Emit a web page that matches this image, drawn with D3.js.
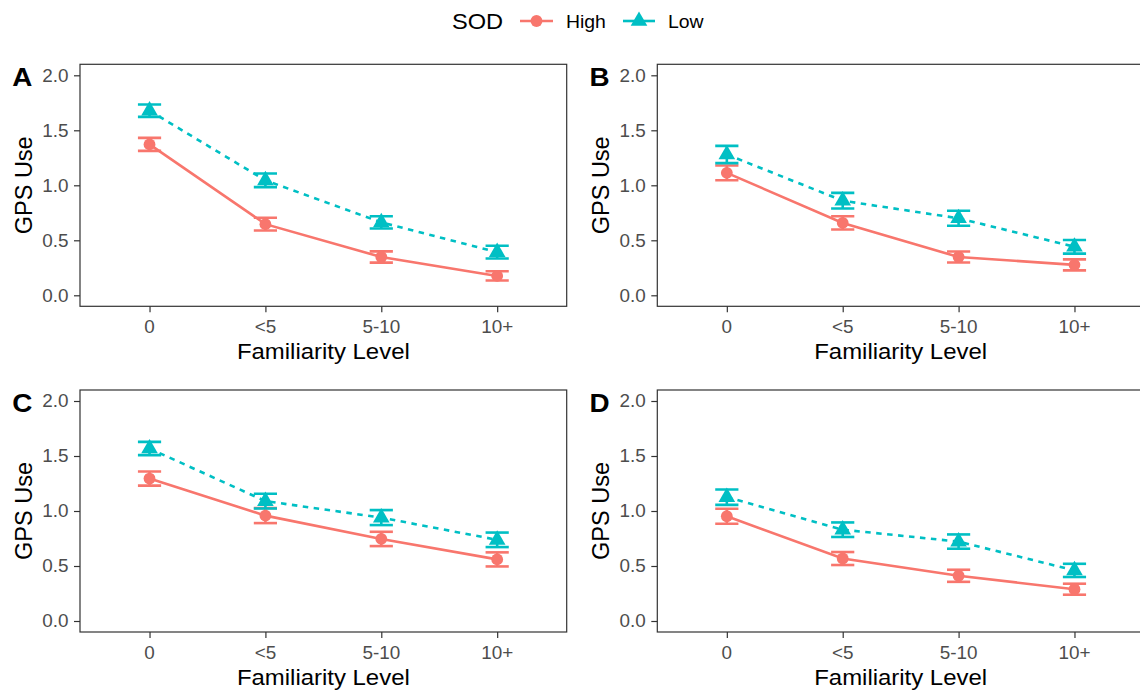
<!DOCTYPE html>
<html>
<head>
<meta charset="utf-8">
<script src="https://cdn.jsdelivr.net/npm/d3@7"></script>
<style>
  html, body { margin: 0; padding: 0; background: #fff; }
  svg { display: block; font-family: "Liberation Sans", Arial, Helvetica, sans-serif; }
</style>
</head>
<body>
<svg id="chart" width="1140" height="691"></svg>
<script>
// ---------------- data ----------------
const categories = ["0", "<5", "5-10", "10+"];
const panelTags = ["A", "B", "C", "D"];
const seriesNames = ["High", "Low"];
const yTicks = [0, 0.5, 1.0, 1.5, 2.0];

const highA = [1.372, 0.647, 0.348, 0.176];
const seHighA = [0.059, 0.058, 0.051, 0.042];
const lowA = [1.678, 1.045, 0.663, 0.392];
const seLowA = [0.056, 0.062, 0.056, 0.058];

const highB = [1.113, 0.658, 0.348, 0.277];
const seHighB = [0.067, 0.060, 0.050, 0.050];
const lowB = [1.280, 0.860, 0.700, 0.441];
const seLowB = [0.078, 0.071, 0.068, 0.062];

const highC = [1.295, 0.958, 0.746, 0.560];
const seHighC = [0.064, 0.068, 0.065, 0.064];
const lowC = [1.568, 1.090, 0.940, 0.738];
const seLowC = [0.060, 0.067, 0.068, 0.066];

const highD = [0.952, 0.568, 0.411, 0.289];
const seHighD = [0.068, 0.059, 0.055, 0.050];
const lowD = [1.126, 0.830, 0.722, 0.460];
const seLowD = [0.070, 0.066, 0.065, 0.060];

// ---------------- layout ----------------
const colors = { High: "#F8766D", Low: "#00BFC4" };
const SX = 1.05; // slight horizontal text stretch to match reference typography
const colX = [80, 657.3];
const rowY = [64.3, 390];
const panelW = 486.7;
const panelH = 242;

const panels = [
  { tag: "A", high: highA, seHigh: seHighA, low: lowA, seLow: seLowA, c: 0, r: 0 },
  { tag: "B", high: highB, seHigh: seHighB, low: lowB, seLow: seLowB, c: 1, r: 0 },
  { tag: "C", high: highC, seHigh: seHighC, low: lowC, seLow: seLowC, c: 0, r: 1 },
  { tag: "D", high: highD, seHigh: seHighD, low: lowD, seLow: seLowD, c: 1, r: 1 }
];

const svg = d3.select("#chart");

function stretchedText(g, x, y, txt, opts) {
  const t = g.append("text")
    .attr("transform", `translate(${x},${y}) scale(${SX},1)`)
    .attr("text-anchor", opts.anchor || "start")
    .attr("font-size", opts.size)
    .attr("fill", opts.fill || "#000")
    .text(txt);
  if (opts.weight) t.attr("font-weight", opts.weight);
  if (opts.dy) t.attr("dy", opts.dy);
  return t;
}

panels.forEach(p => {
  const left = colX[p.c], top = rowY[p.r];
  const right = left + panelW, bottom = top + panelH;

  const x = d3.scalePoint().domain(categories).range([left, right]).padding(0.6);
  const y = d3.scaleLinear().domain([-0.1, 2.1]).range([bottom, top]);

  const g = svg.append("g");

  g.append("rect").attr("x", left).attr("y", top).attr("width", panelW).attr("height", panelH)
    .attr("fill", "#fff").attr("stroke", "none");

  const yAxis = g.append("g").attr("transform", `translate(${left},0)`)
    .call(d3.axisLeft(y).tickValues(yTicks).tickSize(6).tickFormat(""));
  yAxis.select(".domain").remove();
  yAxis.selectAll(".tick line").attr("stroke", "#333").attr("stroke-width", 1.2);

  const xAxis = g.append("g").attr("transform", `translate(0,${bottom})`)
    .call(d3.axisBottom(x).tickSize(6).tickFormat(""));
  xAxis.select(".domain").remove();
  xAxis.selectAll(".tick line").attr("stroke", "#333").attr("stroke-width", 1.2);

  yTicks.forEach(v => {
    stretchedText(g, left - 11.5, y(v), d3.format(".1f")(v),
      { anchor: "end", size: 18, fill: "#4D4D4D", dy: "0.36em" });
  });
  categories.forEach(cat => {
    stretchedText(g, x(cat), bottom + 27, cat,
      { anchor: "middle", size: 18, fill: "#4D4D4D" });
  });

  stretchedText(g, (left + right) / 2, bottom + 53, "Familiarity Level",
    { anchor: "middle", size: 22.8, fill: "#000" });
  g.append("text")
    .attr("transform", `translate(${left - 48.5},${(top + bottom) / 2}) rotate(-90)`)
    .attr("text-anchor", "middle")
    .attr("font-size", 23.5)
    .attr("fill", "#000")
    .text("GPS Use");

  stretchedText(g, left - 67.8, top + 22, p.tag,
    { anchor: "start", size: 26.5, weight: "bold", fill: "#000" });

  const clipId = "clip" + p.tag;
  g.append("clipPath").attr("id", clipId).append("rect")
    .attr("x", left).attr("y", top).attr("width", panelW).attr("height", panelH);
  const dg = g.append("g").attr("clip-path", `url(#${clipId})`);

  const series = [
    { name: "High", vals: p.high, se: p.seHigh, dash: null },
    { name: "Low", vals: p.low, se: p.seLow, dash: "5.5,5.5" }
  ];

  const line = d3.line().x((d, i) => x(categories[i])).y(d => y(d));

  series.forEach(s => {
    const path = dg.append("path").datum(s.vals)
      .attr("d", line)
      .attr("fill", "none")
      .attr("stroke", colors[s.name])
      .attr("stroke-width", 2.6);
    if (s.dash) path.attr("stroke-dasharray", s.dash);
  });

  series.forEach(s => {
    const eb = dg.append("g").attr("stroke", colors[s.name]).attr("stroke-width", 2.6).attr("fill", "none");
    s.vals.forEach((v, i) => {
      const cx = x(categories[i]);
      const y1 = y(v + s.se[i]), y0 = y(v - s.se[i]);
      const hw = 11.6;
      eb.append("line").attr("x1", cx).attr("x2", cx).attr("y1", y1).attr("y2", y0);
      eb.append("line").attr("x1", cx - hw).attr("x2", cx + hw).attr("y1", y1).attr("y2", y1);
      eb.append("line").attr("x1", cx - hw).attr("x2", cx + hw).attr("y1", y0).attr("y2", y0);
    });
  });

  const circleSym = d3.symbol().type(d3.symbolCircle).size(110);
  const triSym = d3.symbol().type(d3.symbolTriangle).size(120);
  series.forEach(s => {
    dg.selectAll(null).data(s.vals).enter().append("path")
      .attr("d", s.name === "High" ? circleSym : triSym)
      .attr("transform", (d, i) => `translate(${x(categories[i])},${y(d)})`)
      .attr("fill", colors[s.name]);
  });

  g.append("rect").attr("x", left).attr("y", top).attr("width", panelW).attr("height", panelH)
    .attr("fill", "none").attr("stroke", "#333").attr("stroke-width", 1.2);
});

// ---------------- legend ----------------
const lg = svg.append("g");
const legY = 21;
stretchedText(lg, 452, legY, "SOD", { anchor: "start", size: 22.5, fill: "#000", dy: "0.36em" });
const legendItems = [
  { name: "High", x0: 520, x1: 553, tx: 566 },
  { name: "Low", x0: 623, x1: 655, tx: 668 }
];
legendItems.forEach(it => {
  lg.append("line").attr("x1", it.x0).attr("x2", it.x1).attr("y1", legY).attr("y2", legY)
    .attr("stroke", colors[it.name]).attr("stroke-width", 2.6);
  const sym = d3.symbol().type(it.name === "High" ? d3.symbolCircle : d3.symbolTriangle)
    .size(it.name === "High" ? 110 : 120);
  lg.append("path").attr("d", sym).attr("transform", `translate(${(it.x0 + it.x1) / 2},${legY})`)
    .attr("fill", colors[it.name]);
  stretchedText(lg, it.tx, legY, it.name, { anchor: "start", size: 18.5, fill: "#000", dy: "0.36em" });
});
</script>
</body>
</html>
